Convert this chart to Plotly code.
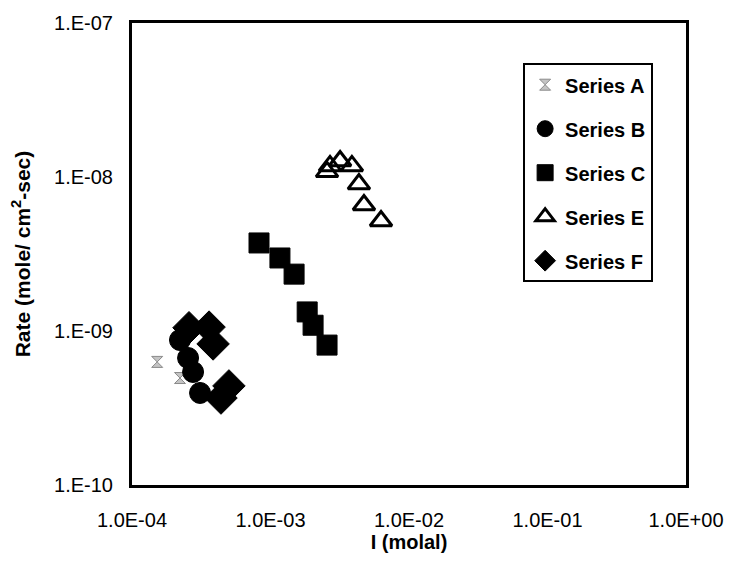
import plotly.graph_objects as go

# Ionic strength (molal) and dissolution rate (mole/cm^2-sec) per series
a_I = [1.52e-4, 2.22e-4]
a_rate = [6.3e-10, 4.95e-10]

b_I = [2.22e-4, 2.54e-4, 2.76e-4, 3.10e-4]
b_rate = [8.74e-10, 6.68e-10, 5.42e-10, 3.96e-10]

c_I = [8.26e-4, 1.17e-3, 1.48e-3, 1.84e-3, 2.03e-3, 2.56e-3]
c_rate = [3.73e-9, 2.98e-9, 2.34e-9, 1.33e-9, 1.09e-9, 8.1e-10]

e_I = [2.56e-3, 2.69e-3, 3.18e-3, 3.87e-3, 4.35e-3, 4.73e-3, 6.28e-3]
e_rate = [1.08e-8, 1.18e-8, 1.27e-8, 1.18e-8, 9.0e-9, 6.58e-9, 5.18e-9]

f_I = [2.58e-4, 3.60e-4, 3.85e-4, 5.01e-4, 4.39e-4]
f_rate = [1.05e-9, 1.06e-9, 8.24e-10, 4.40e-10, 3.67e-10]

x_ticks = [1e-4, 1e-3, 1e-2, 1e-1, 1e0]
x_ticktext = ["1.0E-04", "1.0E-03", "1.0E-02", "1.0E-01", "1.0E+00"]
y_ticks = [1e-10, 1e-9, 1e-8, 1e-7]
y_ticktext = ["1.E-10", "1.E-09", "1.E-08", "1.E-07"]

FONT = "Liberation Sans, Arial, sans-serif"

series = [
    ("Series A", a_I, a_rate, dict(symbol="hourglass", size=11, color="#c4c4c4",
                                   line=dict(color="#8a8a8a", width=1))),
    ("Series B", b_I, b_rate, dict(symbol="circle", size=21, color="black",
                                   line=dict(color="black", width=1))),
    ("Series C", c_I, c_rate, dict(symbol="square", size=20, color="black",
                                   line=dict(color="black", width=1))),
    ("Series E", e_I, e_rate, dict(symbol="triangle-up-open", size=19, color="black",
                                   line=dict(color="black", width=3))),
    ("Series F", f_I, f_rate, dict(symbol="diamond", size=25, color="black",
                                   line=dict(color="black", width=1))),
]

fig = go.Figure()
for name, xs, ys, mk in series:
    fig.add_trace(go.Scatter(x=xs, y=ys, mode="markers", name=name,
                             legendgroup=name, marker=mk))

axis_common = dict(
    type="log",
    showgrid=False,
    zeroline=False,
    showline=True,
    linecolor="black",
    linewidth=3,
    mirror=True,
    ticks="",
    tickfont=dict(family=FONT, size=20, color="black"),
)

fig.update_xaxes(
    **axis_common,
    range=[-4, 0],
    tickvals=x_ticks,
    ticktext=x_ticktext,
    ticklabelstandoff=15,
    title=dict(text="<b>I (molal)</b>", font=dict(family=FONT, size=20, color="black"),
               standoff=5),
)
fig.update_yaxes(
    **axis_common,
    range=[-10, -7],
    tickvals=y_ticks,
    ticktext=y_ticktext,
    ticklabelstandoff=12,
    title=dict(text="<b>Rate (mole/ cm<sup>2</sup>-sec)</b>",
               font=dict(family=FONT, size=21, color="black"), standoff=18),
)

fig.update_layout(
    width=733,
    height=562,
    margin=dict(l=132, r=47, t=23, b=77, autoexpand=False),
    paper_bgcolor="white",
    plot_bgcolor="white",
    showlegend=True,
    legend=dict(
        x=0.706, y=0.913, xanchor="left", yanchor="top",
        bordercolor="black", borderwidth=2, bgcolor="white",
        font=dict(family=FONT, size=20, color="black", weight="bold"),
        tracegroupgap=15,
        itemsizing="trace",
        entrywidth=140,
    ),
)

fig.write_html("out.html")
